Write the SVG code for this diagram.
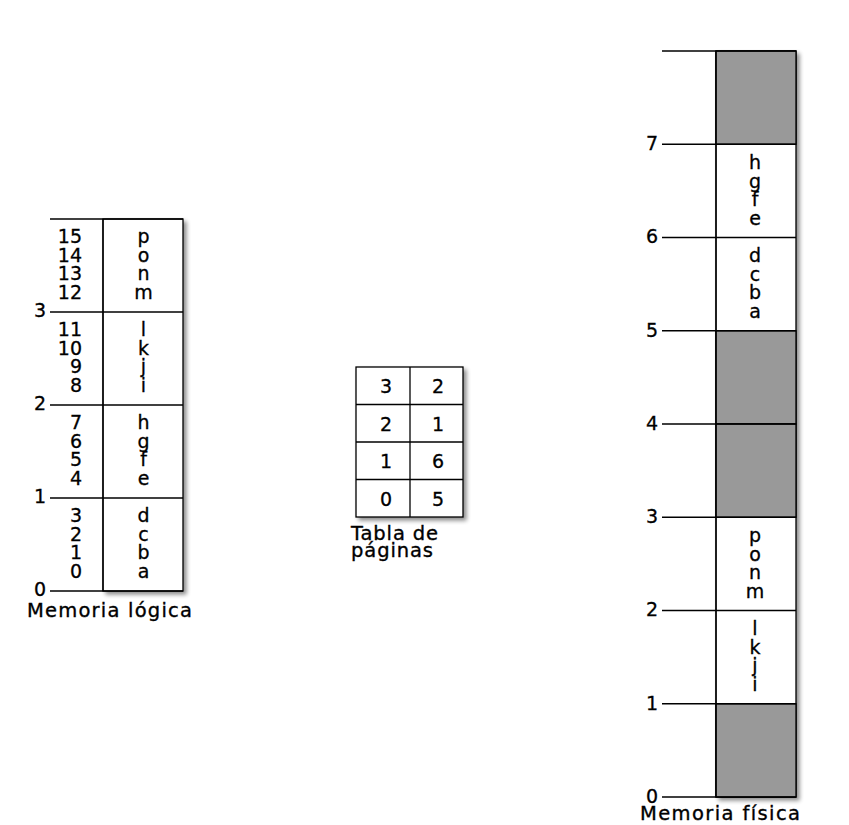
<svg xmlns="http://www.w3.org/2000/svg" width="849" height="825" viewBox="0 0 849 825">
  <defs>
    <filter id="shadow" x="-20%" y="-5%" width="140%" height="110%">
      <feGaussianBlur in="SourceAlpha" stdDeviation="2"/>
      <feOffset dx="3" dy="3" result="b"/>
      <feComponentTransfer><feFuncA type="linear" slope="0.45"/></feComponentTransfer>
      <feMerge><feMergeNode/><feMergeNode in="SourceGraphic"/></feMerge>
    </filter>
  </defs>
  <style>
    .box { fill: #ffffff; stroke: #000; stroke-width: 1.3; }
    .free { fill: #999999; stroke: #000; stroke-width: 1.3; }
    .ln { stroke: #000; stroke-width: 1.3; fill: none; }
    .t { font-family: "DejaVu Sans", "Liberation Sans", sans-serif; font-size: 19px; fill: #000; stroke: #000; stroke-width: 0.3; }
    .num { text-anchor: end; }
    .let { text-anchor: middle; }
    .mid { text-anchor: middle; }
    .lbl { font-family: "DejaVu Sans", "Liberation Sans", sans-serif; font-size: 19.5px; fill: #000; stroke: #000; stroke-width: 0.35; }
  </style>
  <rect width="849" height="825" fill="#ffffff"/>

  <!-- Logical memory -->
  <g id="logical-memory">
    <rect class="box" x="103" y="219" width="80" height="372" filter="url(#shadow)"/>
    <line class="ln" x1="103" y1="219" x2="103" y2="591"/>
    <line class="ln" x1="50" y1="219" x2="183" y2="219"/>
    <line class="ln" x1="50" y1="312" x2="183" y2="312"/>
    <line class="ln" x1="50" y1="405" x2="183" y2="405"/>
    <line class="ln" x1="50" y1="498" x2="183" y2="498"/>
    <line class="ln" x1="50" y1="591" x2="183" y2="591"/>
    <text class="t num" x="46" y="317">3</text>
    <text class="t num" x="46" y="410">2</text>
    <text class="t num" x="46" y="503">1</text>
    <text class="t num" x="46" y="596">0</text>
    <text class="t num"><tspan x="82" y="243">15</tspan><tspan x="82" dy="18.5">14</tspan><tspan x="82" dy="18.5">13</tspan><tspan x="82" dy="18.5">12</tspan></text>
    <text class="t num"><tspan x="82" y="336">11</tspan><tspan x="82" dy="18.5">10</tspan><tspan x="82" dy="18.5">9</tspan><tspan x="82" dy="18.5">8</tspan></text>
    <text class="t num"><tspan x="82" y="429">7</tspan><tspan x="82" dy="18.5">6</tspan><tspan x="82" dy="18.5">5</tspan><tspan x="82" dy="18.5">4</tspan></text>
    <text class="t num"><tspan x="82" y="522">3</tspan><tspan x="82" dy="18.5">2</tspan><tspan x="82" dy="18.5">1</tspan><tspan x="82" dy="18.5">0</tspan></text>
    <text class="t let"><tspan x="143.5" y="243">p</tspan><tspan x="143.5" dy="18.5">o</tspan><tspan x="143.5" dy="18.5">n</tspan><tspan x="143.5" dy="18.5">m</tspan></text>
    <text class="t let"><tspan x="143.5" y="336">l</tspan><tspan x="143.5" dy="18.5">k</tspan><tspan x="143.5" dy="18.5">j</tspan><tspan x="143.5" dy="18.5">i</tspan></text>
    <text class="t let"><tspan x="143.5" y="429">h</tspan><tspan x="143.5" dy="18.5">g</tspan><tspan x="143.5" dy="18.5">f</tspan><tspan x="143.5" dy="18.5">e</tspan></text>
    <text class="t let"><tspan x="143.5" y="522">d</tspan><tspan x="143.5" dy="18.5">c</tspan><tspan x="143.5" dy="18.5">b</tspan><tspan x="143.5" dy="18.5">a</tspan></text>
    <text class="lbl" x="27" y="617" textLength="165" lengthAdjust="spacing">Memoria lógica</text>
  </g>

  <!-- Page table -->
  <g id="page-table">
    <rect class="box" x="356" y="367" width="107" height="150" filter="url(#shadow)"/>
    <line class="ln" x1="410" y1="367" x2="410" y2="517"/>
    <line class="ln" x1="356" y1="404.5" x2="463" y2="404.5"/>
    <line class="ln" x1="356" y1="442" x2="463" y2="442"/>
    <line class="ln" x1="356" y1="479.5" x2="463" y2="479.5"/>
    <text class="t mid" x="386" y="393">3</text>
    <text class="t mid" x="438" y="393">2</text>
    <text class="t mid" x="386" y="430.5">2</text>
    <text class="t mid" x="438" y="430.5">1</text>
    <text class="t mid" x="386" y="468">1</text>
    <text class="t mid" x="438" y="468">6</text>
    <text class="t mid" x="386" y="505.5">0</text>
    <text class="t mid" x="438" y="505.5">5</text>
    <text class="lbl" x="351" y="540" textLength="87" lengthAdjust="spacing">Tabla de</text>
    <text class="lbl" x="351" y="557" textLength="82" lengthAdjust="spacing">páginas</text>
  </g>

  <!-- Physical memory -->
  <g id="physical-memory">
    <rect class="box" x="716" y="51" width="80" height="746" filter="url(#shadow)"/>
    <rect class="free" x="716" y="51" width="80" height="93.25"/>
    <rect class="free" x="716" y="330.75" width="80" height="93.25"/>
    <rect class="free" x="716" y="424" width="80" height="93.25"/>
    <rect class="free" x="716" y="703.75" width="80" height="93.25"/>
    <line class="ln" x1="662" y1="51" x2="796" y2="51"/>
    <line class="ln" x1="662" y1="144.25" x2="796" y2="144.25"/>
    <line class="ln" x1="662" y1="237.5" x2="796" y2="237.5"/>
    <line class="ln" x1="662" y1="330.75" x2="796" y2="330.75"/>
    <line class="ln" x1="662" y1="424" x2="796" y2="424"/>
    <line class="ln" x1="662" y1="517.25" x2="796" y2="517.25"/>
    <line class="ln" x1="662" y1="610.5" x2="796" y2="610.5"/>
    <line class="ln" x1="662" y1="703.75" x2="796" y2="703.75"/>
    <line class="ln" x1="662" y1="797" x2="796" y2="797"/>
    <line class="ln" x1="716" y1="51" x2="716" y2="797"/>
    <text class="t num" x="658" y="150">7</text>
    <text class="t num" x="658" y="243">6</text>
    <text class="t num" x="658" y="336.5">5</text>
    <text class="t num" x="658" y="429.5">4</text>
    <text class="t num" x="658" y="523">3</text>
    <text class="t num" x="658" y="616">2</text>
    <text class="t num" x="658" y="709.5">1</text>
    <text class="t num" x="658" y="802.5">0</text>
    <text class="t let"><tspan x="755" y="169">h</tspan><tspan x="755" dy="18.5">g</tspan><tspan x="755" dy="18.5">f</tspan><tspan x="755" dy="18.5">e</tspan></text>
    <text class="t let"><tspan x="755" y="262.2">d</tspan><tspan x="755" dy="18.5">c</tspan><tspan x="755" dy="18.5">b</tspan><tspan x="755" dy="18.5">a</tspan></text>
    <text class="t let"><tspan x="755" y="542">p</tspan><tspan x="755" dy="18.5">o</tspan><tspan x="755" dy="18.5">n</tspan><tspan x="755" dy="18.5">m</tspan></text>
    <text class="t let"><tspan x="755" y="635.2">l</tspan><tspan x="755" dy="18.5">k</tspan><tspan x="755" dy="18.5">j</tspan><tspan x="755" dy="18.5">i</tspan></text>
    <text class="lbl" x="640" y="820" textLength="160" lengthAdjust="spacing">Memoria física</text>
  </g>
</svg>
